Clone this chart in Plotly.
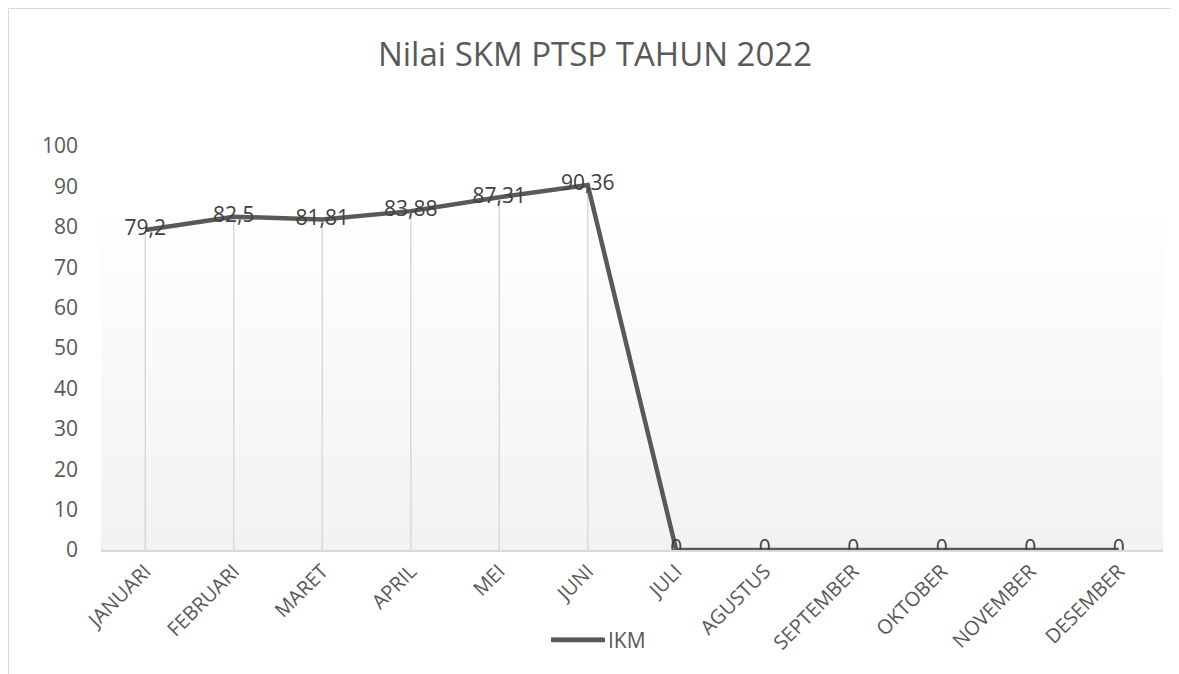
import plotly.graph_objects as go

months = ["JANUARI", "FEBRUARI", "MARET", "APRIL", "MEI", "JUNI", "JULI",
          "AGUSTUS", "SEPTEMBER", "OKTOBER", "NOVEMBER", "DESEMBER"]
ikm = [79.2, 82.5, 81.81, 83.88, 87.31, 90.36, 0, 0, 0, 0, 0, 0]
labels = [("%g" % v).replace(".", ",") for v in ikm]
y_ticks = list(range(0, 101, 10))

# page has an 8px body margin; figure coords = page coords - 8
W, H = 1171, 666
L, R, T, B = 93, 16, 138, 124
pw, ph = W - L - R, H - T - B
FONT = "Open Sans"
GRAY = "#595959"

fig = go.Figure()

# drop lines
fig.add_trace(go.Scatter(
    x=months, y=ikm, mode="markers", marker=dict(size=0.1, color="rgba(0,0,0,0)"),
    error_y=dict(type="data", symmetric=False, array=[0] * len(ikm), arrayminus=ikm,
                 color="#d9d9d9", thickness=1.5, width=0),
    showlegend=False, hoverinfo="skip"))

fig.add_trace(go.Scatter(
    x=months, y=ikm, mode="lines+text", name="IKM",
    line=dict(color=GRAY, width=4.5),
    text=labels, textposition="middle center",
    textfont=dict(family=FONT, size=21, color="#404040")))

# background gradient in plot area
shapes = []
n = 40
top_val = 87.0
for i in range(n):
    y0 = top_val * i / n
    y1 = top_val * (i + 1) / n
    frac = i / (n - 1)
    c = int(round(242 + (255 - 242) * frac))
    shapes.append(dict(type="rect", xref="paper", yref="y", x0=0, x1=1, y0=y0, y1=y1,
                       fillcolor="rgb(%d,%d,%d)" % (c, c, c), line=dict(width=0), layer="below"))
# chart border
shapes.append(dict(type="rect", xref="paper", yref="paper",
                   x0=(0.5 - L) / pw, x1=(W + 10 - L) / pw,
                   y0=-(H + 10 - T - ph) / ph, y1=(ph + T - 0.5) / ph,
                   line=dict(color="#d9d9d9", width=1), fillcolor="rgba(0,0,0,0)", layer="below"))
# longer legend line sample (Excel style)
ly = -(632 - (T + ph)) / ph
shapes.append(dict(type="line", xref="paper", yref="paper",
                   x0=(545 - L) / pw, x1=(597 - L) / pw, y0=ly, y1=ly,
                   line=dict(color=GRAY, width=4.5)))

fig.update_layout(
    width=W, height=H,
    margin=dict(l=L, r=R, t=T, b=B),
    paper_bgcolor="white", plot_bgcolor="white",
    title=dict(text="Nilai SKM PTSP TAHUN 2022", x=587 / W, xanchor="center",
               y=1 - 46 / H, yanchor="middle",
               font=dict(family=FONT, size=33, color=GRAY)),
    shapes=shapes,
    showlegend=True,
    legend=dict(orientation="h", x=(538 - L) / pw, xanchor="left", y=ly,
                yanchor="middle", bgcolor="rgba(0,0,0,0)", itemwidth=52,
                font=dict(family=FONT, size=21, color=GRAY)),
    xaxis=dict(showgrid=False, showline=True, linecolor="#d9d9d9", linewidth=1.5,
               tickangle=-45, ticks="", tickfont=dict(family=FONT, size=20, color=GRAY),
               range=[-0.5, 11.5], zeroline=False),
    yaxis=dict(showgrid=False, showline=False, zeroline=False, range=[0, 100],
               tickvals=y_ticks, ticks="", ticklabelstandoff=22,
               tickfont=dict(family=FONT, size=21, color=GRAY)),
)

fig.write_html("out.html")
